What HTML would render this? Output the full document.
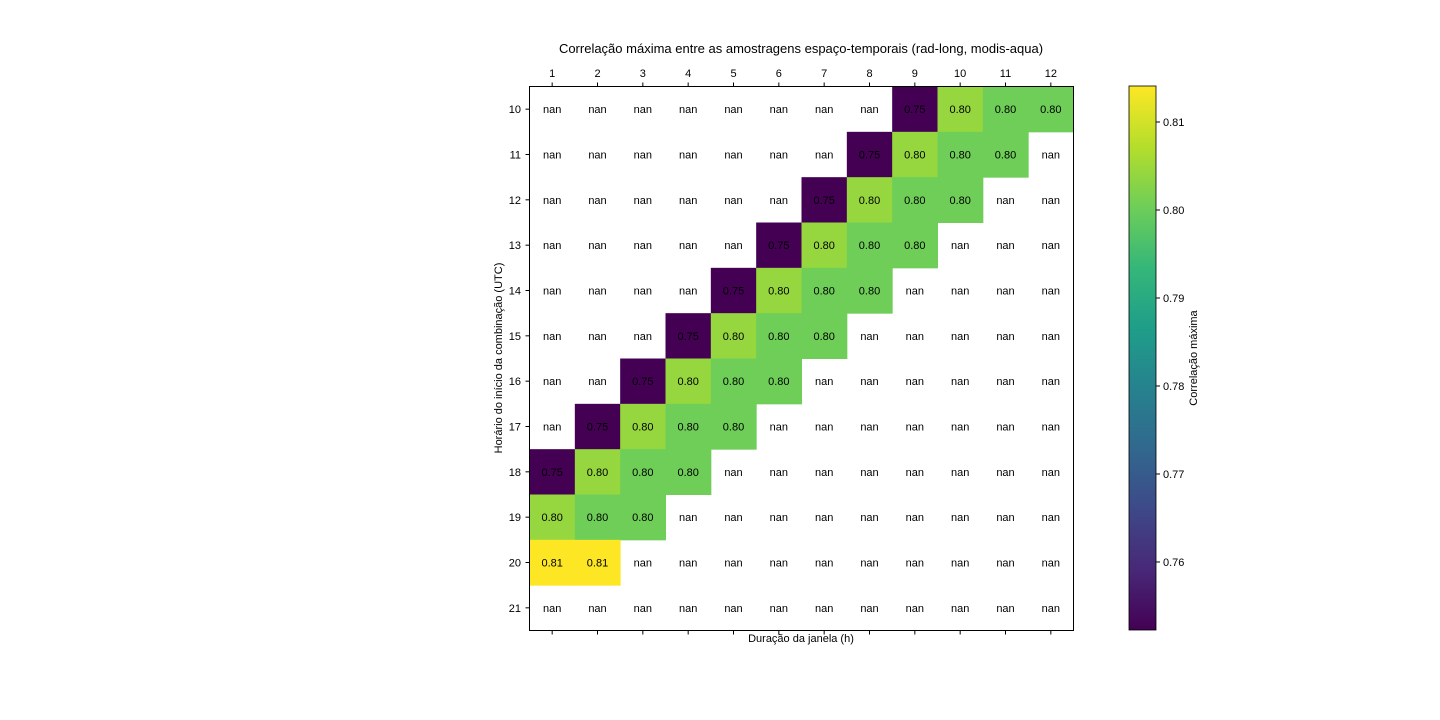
<!DOCTYPE html>
<html><head><meta charset="utf-8"><style>
html,body{margin:0;padding:0;background:#fff;}
svg{display:block;font-family:"Liberation Sans","DejaVu Sans",sans-serif;}
</style></head><body>
<svg id="chart" width="1440" height="720" viewBox="0 0 1440 720">
<defs><linearGradient id="vir" x1="0" y1="1" x2="0" y2="0"></linearGradient></defs>
<text x="801" y="53" text-anchor="middle" font-size="13">Correlação máxima entre as amostragens espaço-temporais (rad-long, modis-aqua)</text>
<g id="cells"></g>
<rect x="529.5" y="86.5" width="544" height="544" fill="none" stroke="#000" stroke-width="1"/>
<g id="axes"></g>
<text x="801" y="642" text-anchor="middle" font-size="11">Duração da janela (h)</text>
<text transform="translate(502,358) rotate(-90)" text-anchor="middle" font-size="11">Horário do início da combinação (UTC)</text>
<rect x="1129" y="86" width="27" height="544" fill="url(#vir)" stroke="#000" stroke-width="0.8"/>
<g id="cbaxis"></g>
<text transform="translate(1197,358) rotate(-90)" text-anchor="middle" font-size="11">Correlação máxima</text>
</svg>
<script>
const cols = [1,2,3,4,5,6,7,8,9,10,11,12];
const rows = [10,11,12,13,14,15,16,17,18,19,20,21];
const N = null;
const P = 0.7523, L = 0.8042, M = 0.8004, Y = 0.8141;
const row10 = [N,N,N,N,N,N,N,N,P,L,M,M];
const row11 = [N,N,N,N,N,N,N,P,L,M,M,N];
const row12 = [N,N,N,N,N,N,P,L,M,M,N,N];
const row13 = [N,N,N,N,N,P,L,M,M,N,N,N];
const row14 = [N,N,N,N,P,L,M,M,N,N,N,N];
const row15 = [N,N,N,P,L,M,M,N,N,N,N,N];
const row16 = [N,N,P,L,M,M,N,N,N,N,N,N];
const row17 = [N,P,L,M,M,N,N,N,N,N,N,N];
const row18 = [P,L,M,M,N,N,N,N,N,N,N,N];
const row19 = [L,M,M,N,N,N,N,N,N,N,N,N];
const row20 = [Y,Y,N,N,N,N,N,N,N,N,N,N];
const row21 = [N,N,N,N,N,N,N,N,N,N,N,N];
const values = [row10,row11,row12,row13,row14,row15,row16,row17,row18,row19,row20,row21];
const cbTicks = [0.76,0.77,0.78,0.79,0.80,0.81];
const vmin = 0.75227, vmax = 0.81409;

const stops = ["#440154","#482878","#3e4989","#31688e","#26828e","#1f9e89","#35b779","#6ece58","#b5de2b","#fde725"];
function hex(h){return [1,3,5].map(i=>parseInt(h.substr(i,2),16));}
function viridis(t){t=Math.max(0,Math.min(1,t));const f=t*9,i=Math.min(8,Math.floor(f)),r=f-i;const a=hex(stops[i]),b=hex(stops[i+1]);return "rgb("+a.map((v,k)=>Math.round(v+(b[k]-v)*r)).join(",")+")";}
const X0=529.5, Y0=86.5, W=544, H=544;
const cw = W/cols.length, ch = H/rows.length;
const xPos = i => X0 + i*cw;
const yPos = j => Y0 + j*ch;
const cbY = v => 630 - (v - vmin)/(vmax - vmin)*544;
const NS="http://www.w3.org/2000/svg";
function mk(tag, attrs, parent, txt){const e=document.createElementNS(NS,tag);for(const k in attrs)e.setAttribute(k,attrs[k]);if(txt!==undefined)e.textContent=txt;parent.appendChild(e);return e;}
const grad=document.getElementById('vir');
stops.forEach((s,i)=>mk('stop',{offset:(i/9*100)+'%','stop-color':s},grad));
const cells=document.getElementById('cells');
values.forEach((row,j)=>row.forEach((v,i)=>{
  if(v!==null){
    const r=mk('rect',{x:xPos(i),y:yPos(j),width:cw+0.5,height:ch+0.5,fill:viridis((v-vmin)/(vmax-vmin))},cells);
    
    
  }
  const lbl = v===null ? 'nan' : (Math.floor(v*100+1e-9)/100).toFixed(2);
  const t=mk('text',{x:xPos(i)+cw/2,y:yPos(j)+ch/2+4,'text-anchor':'middle','font-size':11},cells,lbl);
  
  
}));
const ax=document.getElementById('axes');
cols.forEach((c,i)=>{
  const x=xPos(i)+cw/2;
  mk('line',{x1:x,x2:x,y1:86.5,y2:82.5,stroke:'#000'},ax);
  mk('line',{x1:x,x2:x,y1:630.5,y2:634.5,stroke:'#000'},ax);
  const t=mk('text',{x:x,y:77,'text-anchor':'middle','font-size':11},ax,c);
  
  
});
rows.forEach((r,j)=>{
  const y=yPos(j)+ch/2;
  mk('line',{x1:525.5,x2:529.5,y1:y,y2:y,stroke:'#000'},ax);
  const t=mk('text',{x:521,y:y+4,'text-anchor':'end','font-size':11},ax,r);
  
  
});
const cb=document.getElementById('cbaxis');
cbTicks.forEach(v=>{
  const y=cbY(v);
  mk('line',{x1:1156,x2:1160,y1:y,y2:y,stroke:'#000'},cb);
  const t=mk('text',{x:1163,y:y+4,'font-size':11},cb,v.toFixed(2));
  
  
});
</script>
</body></html>
